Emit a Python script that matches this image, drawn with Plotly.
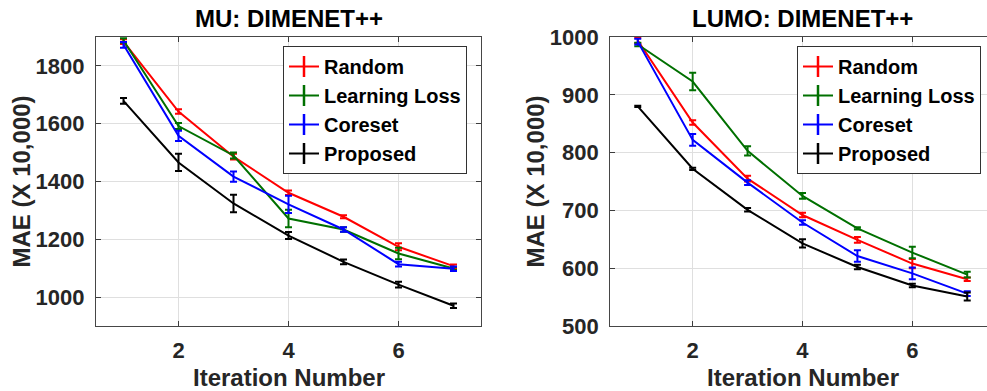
import plotly.graph_objects as go

iters = [1, 2, 3, 4, 5, 6, 7]
methods = ["Random", "Learning Loss", "Coreset", "Proposed"]
colors = ["rgb(255,0,0)", "rgb(0,112,0)", "rgb(0,0,255)", "rgb(0,0,0)"]

# MU: DIMENET++
mu_random = [1884, 1642, 1486, 1361, 1278, 1174, 1107]
mu_random_err = [8, 8, 10, 8, 5, 12, 6]
mu_ll = [1888, 1592, 1490, 1272, 1234, 1151, 1099]
mu_ll_err = [8, 10, 10, 30, 8, 20, 5]
mu_coreset = [1873, 1558, 1417, 1321, 1234, 1114, 1098]
mu_coreset_err = [10, 18, 18, 30, 8, 8, 8]
mu_proposed = [1679, 1466, 1324, 1213, 1122, 1043, 970]
mu_proposed_err = [10, 30, 30, 12, 8, 10, 8]

# LUMO: DIMENET++
lumo_random = [994, 852, 755, 692, 649, 608, 581]
lumo_random_err = [5, 4, 5, 4, 5, 8, 3]
lumo_ll = [987, 923, 803, 725, 669, 627, 589]
lumo_ll_err = [3, 15, 8, 5, 2, 10, 5]
lumo_coreset = [992, 822, 748, 679, 621, 591, 556]
lumo_coreset_err = [5, 10, 4, 4, 10, 10, 4]
lumo_proposed = [880, 772, 701, 643, 602, 570, 551]
lumo_proposed_err = [1, 2, 3, 7, 4, 3, 7]

mu_series = [(mu_random, mu_random_err), (mu_ll, mu_ll_err),
             (mu_coreset, mu_coreset_err), (mu_proposed, mu_proposed_err)]
lumo_series = [(lumo_random, lumo_random_err), (lumo_ll, lumo_ll_err),
               (lumo_coreset, lumo_coreset_err), (lumo_proposed, lumo_proposed_err)]

FONT = "Liberation Sans, Arial, Helvetica, sans-serif"
W, H = 987, 391

fig = go.Figure()


def add_panel(series, xa, ya, legend_name):
    for name, color, (vals, errs) in zip(methods, colors, series):
        fig.add_trace(go.Scatter(
            x=iters, y=vals, mode="lines", name=name,
            line=dict(color=color, width=2),
            error_y=dict(type="data", array=errs, visible=True,
                         color=color, thickness=2, width=3.5),
            xaxis=xa, yaxis=ya, showlegend=False, legend=legend_name,
        ))
    # legend-only entries (line with an errorbar glyph)
    for name, color in zip(methods, colors):
        fig.add_trace(go.Scatter(
            x=[None], y=[None], mode="lines+markers", name=name,
            line=dict(color=color, width=2),
            marker=dict(symbol="line-ns", size=15,
                        line=dict(color=color, width=2.5)),
            xaxis=xa, yaxis=ya, showlegend=True, legend=legend_name,
        ))


add_panel(mu_series, "x", "y", "legend")
add_panel(lumo_series, "x2", "y2", "legend2")

y_dom = [1 - 326 / H, 1 - 37 / H]
tickfont = dict(family=FONT, size=22, color="#262626", weight="bold")

axis_common = dict(
    showgrid=True, gridcolor="rgb(223,223,223)", gridwidth=1,
    showline=True, linecolor="rgb(70,70,70)", linewidth=1.3,
    ticks="inside", ticklen=5, tickcolor="rgb(60,60,60)", tickwidth=1,
    tickfont=tickfont, zeroline=False,
)

fig.update_layout(
    width=W, height=H,
    margin=dict(l=0, r=0, t=0, b=0, autoexpand=False),
    paper_bgcolor="white", plot_bgcolor="white",
    xaxis=dict(domain=[96 / W, 481 / W], range=[0.5, 7.5],
               tickvals=[2, 4, 6], mirror="ticks", anchor="y",
               ticklabelstandoff=4, **axis_common),
    yaxis=dict(domain=y_dom, range=[900, 1900],
               tickvals=[1000, 1200, 1400, 1600, 1800], mirror="ticks",
               anchor="x", ticklabelstandoff=6, **axis_common),
    xaxis2=dict(domain=[610.3 / W, 1.0], range=[0.5, 7.36],
                tickvals=[2, 4, 6], mirror="ticks", anchor="y2",
                ticklabelstandoff=4, **axis_common),
    yaxis2=dict(domain=y_dom, range=[500, 1000],
                tickvals=[500, 600, 700, 800, 900, 1000], mirror=False,
                anchor="x2", ticklabelstandoff=6, **axis_common),
    legend=dict(x=283 / W, y=1 - 46 / H, xanchor="left", yanchor="top",
                bgcolor="white", bordercolor="rgb(50,50,50)", borderwidth=1,
                font=dict(family=FONT, size=20, color="black", weight="bold"),
                tracegroupgap=0, itemwidth=30),
    legend2=dict(x=797 / W, y=1 - 46 / H, xanchor="left", yanchor="top",
                 bgcolor="white", bordercolor="rgb(50,50,50)", borderwidth=1,
                 font=dict(family=FONT, size=20, color="black", weight="bold"),
                 tracegroupgap=0, itemwidth=30),
)

title_font = dict(family=FONT, size=24, color="black", weight="bold")
label_font = dict(family=FONT, size=24, color="#262626", weight="bold")
annots = [
    dict(text="MU: DIMENET++", x=288.5 / W, y=1 - 19 / H, font=title_font),
    dict(text="LUMO: DIMENET++", x=802.5 / W, y=1 - 19 / H, font=title_font),
    dict(text="Iteration Number", x=288.5 / W, y=1 - 377 / H, font=label_font),
    dict(text="Iteration Number", x=802.5 / W, y=1 - 377 / H, font=label_font),
    dict(text="MAE (X 10,000)", x=21 / W, y=1 - 181.5 / H, font=label_font,
         textangle=-90),
    dict(text="MAE (X 10,000)", x=535 / W, y=1 - 181.5 / H, font=label_font,
         textangle=-90),
]
for a in annots:
    fig.add_annotation(xref="paper", yref="paper", showarrow=False,
                       xanchor="center", yanchor="middle", **a)

fig.write_html("out.html")
